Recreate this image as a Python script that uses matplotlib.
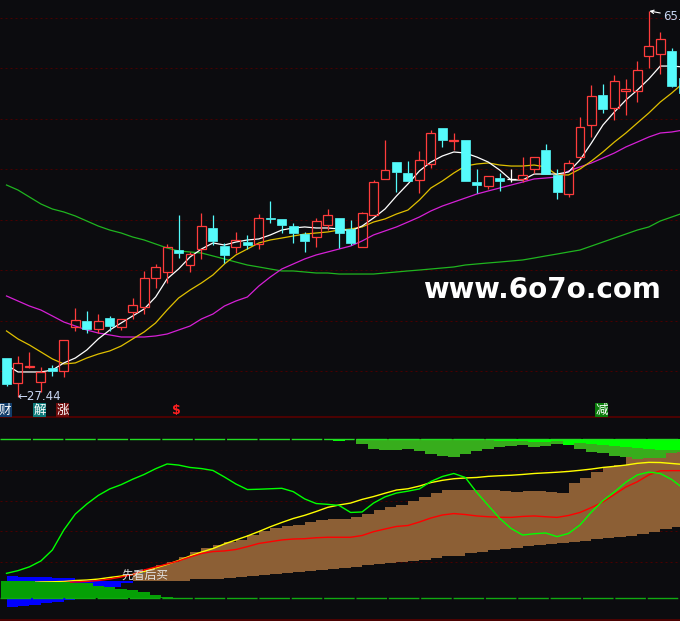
import numpy as np
import matplotlib.pyplot as plt

BG = "#0c0c0f"
RED = "#ff3c3c"
CYAN = "#55fbfb"
CJK = ["Noto Sans CJK SC", "DejaVu Sans"]

# ---- upper panel: daily candles ----
opens = [31.24, 28.81, 30.37, 28.90, 30.27, 29.98, 34.27, 34.85, 34.07, 35.14,
         34.27, 35.73, 36.22, 39.04, 39.63, 41.77, 40.31, 41.87, 43.92, 42.16,
         42.07, 42.55, 42.36, 44.89, 44.80, 44.11, 43.33, 43.04, 44.21, 44.89,
         43.82, 42.07, 45.19, 48.70, 50.35, 49.28, 48.60, 50.16, 53.67, 52.40,
         52.50, 48.40, 48.01, 48.79, 48.65, 48.70, 49.67, 51.52, 49.09, 47.23,
         50.84, 53.96, 56.89, 55.62, 57.28, 57.28, 60.69, 60.88, 61.18, 58.54]
highs = [31.24, 31.44, 31.83, 30.37, 30.56, 33.00, 36.12, 35.83, 35.53, 35.34,
         35.05, 37.09, 39.73, 40.41, 42.36, 45.19, 41.58, 45.38, 45.19, 42.46,
         43.53, 43.24, 45.28, 46.55, 44.80, 44.41, 43.53, 44.89, 45.77, 44.89,
         44.70, 45.48, 48.60, 52.50, 50.35, 50.45, 51.43, 53.47, 53.67, 53.18,
         52.50, 49.67, 48.99, 49.28, 49.67, 50.84, 50.84, 52.11, 49.67, 50.55,
         54.74, 57.86, 57.96, 58.84, 58.45, 60.20, 65.08, 63.03, 61.47, 58.54]
lows = [28.51, 27.44, 30.27, 27.93, 29.49, 29.39, 33.88, 33.68, 33.68, 33.88,
        33.97, 35.05, 35.53, 38.07, 38.56, 40.99, 39.63, 40.90, 42.26, 40.51,
        41.48, 41.87, 41.87, 44.41, 43.43, 42.46, 41.58, 42.07, 43.72, 41.97,
        42.26, 42.07, 45.19, 48.70, 47.43, 48.50, 47.33, 49.77, 51.82, 51.52,
        48.50, 47.33, 47.72, 47.53, 48.40, 48.40, 49.28, 49.18, 46.75, 46.94,
        50.84, 52.79, 55.13, 54.45, 54.94, 56.20, 59.52, 58.93, 57.67, 57.08]
closes = [28.71, 30.76, 30.46, 29.88, 29.98, 33.00, 34.95, 34.07, 34.85, 34.36,
          35.05, 36.41, 39.04, 40.12, 42.07, 41.48, 41.38, 44.11, 42.65, 41.29,
          42.75, 42.26, 44.89, 44.80, 44.21, 43.43, 42.65, 44.60, 45.19, 43.43,
          42.46, 45.38, 48.40, 49.57, 49.38, 48.50, 50.55, 53.18, 52.50, 52.50,
          48.50, 48.11, 48.99, 48.50, 48.65, 49.09, 50.84, 49.18, 47.43, 50.26,
          53.77, 56.79, 55.52, 58.25, 57.47, 59.32, 61.66, 62.35, 57.76, 57.08]

ma5 = [30.56, 29.88, 29.88, 29.88, 30.07, 30.76, 31.24, 32.02, 33.10, 33.97,
       34.66, 35.34, 36.02, 37.19, 38.95, 39.92, 41.09, 41.87, 42.46, 42.26,
       42.55, 42.75, 42.85, 43.24, 43.72, 43.92, 44.02, 43.92, 43.92, 43.82,
       43.63, 44.11, 44.89, 45.77, 47.04, 48.21, 49.48, 50.35, 50.94, 51.33,
       51.23, 50.84, 50.35, 49.57, 48.60, 48.60, 49.18, 49.18, 49.18, 49.38,
       50.55, 52.21, 53.96, 55.23, 56.40, 57.37, 58.45, 59.71, 59.71, 59.62]
ma10 = [33.88, 33.10, 32.51, 31.83, 31.15, 30.66, 30.76, 31.24, 31.63, 31.93,
        32.41, 33.10, 33.78, 34.66, 35.92, 37.09, 37.87, 38.56, 39.34, 40.41,
        41.29, 41.87, 42.46, 42.75, 42.94, 43.14, 43.33, 43.43, 43.53, 43.72,
        43.82, 44.02, 44.50, 44.80, 45.28, 45.67, 46.65, 47.82, 48.50, 49.28,
        49.96, 50.16, 50.26, 50.06, 49.96, 49.96, 50.06, 49.87, 49.09, 49.09,
        49.67, 50.45, 51.33, 52.30, 53.18, 54.16, 55.13, 56.20, 57.08, 58.06]
ma20 = [37.29, 36.80, 36.31, 35.92, 35.34, 34.75, 34.36, 33.97, 33.68, 33.49,
        33.29, 33.29, 33.29, 33.39, 33.58, 33.97, 34.36, 35.05, 35.53, 36.31,
        36.80, 37.19, 38.26, 39.14, 39.92, 40.41, 40.90, 41.29, 41.58, 41.87,
        42.16, 42.65, 43.24, 43.63, 44.02, 44.50, 44.99, 45.58, 46.06, 46.45,
        46.84, 47.23, 47.53, 47.82, 48.11, 48.40, 48.70, 48.79, 48.89, 49.48,
        49.87, 50.26, 50.74, 51.23, 51.82, 52.30, 52.79, 53.18, 53.28, 53.47]
ma60 = [48.11, 47.62, 46.94, 46.26, 45.77, 45.48, 45.09, 44.60, 44.11, 43.72,
        43.43, 43.04, 42.75, 42.36, 41.97, 41.68, 41.58, 41.48, 41.19, 40.90,
        40.60, 40.31, 40.12, 39.92, 39.73, 39.73, 39.63, 39.53, 39.53, 39.43,
        39.43, 39.43, 39.43, 39.53, 39.63, 39.73, 39.82, 39.92, 40.02, 40.12,
        40.31, 40.41, 40.51, 40.60, 40.70, 40.80, 40.99, 41.19, 41.38, 41.58,
        41.77, 42.16, 42.55, 42.94, 43.33, 43.72, 44.02, 44.60, 44.99, 45.38]

tag_text = ["财", "解", "涨", "减"]
tag_pos = [0, 3, 5, 52]
tag_bg = ["#123d6b", "#0e7a7a", "#6e0b0b", "#0a7d0a"]
dollar_pos = 15

# ---- lower panel: indicator ----
blue_top = [13.8, 13.5, 13.2, 13.0, 12.6, 12.3, 11.6, 11.3, 11.0, 10.9, 10.9, 10.9]
blue_bot = [-5.8, -5.0, -4.4, -3.3, -2.3, -1.3, 0.6, 2.5, 5.0, 6.9, 9.2, 9.2]

band_start = 11
band_low = [10.7, 10.9, 10.9, 10.9, 11.0, 11.8, 12.1, 12.1, 12.8, 13.4,
            14.0, 14.7, 15.4, 15.9, 16.5, 17.2, 17.6, 18.2, 19.1, 19.7,
            20.8, 21.4, 22.0, 22.6, 23.5, 24.1, 25.0, 26.4, 26.6, 28.1,
            28.7, 30.0, 30.6, 31.4, 32.7, 33.3, 34.0, 34.6, 35.2, 35.8,
            36.9, 37.7, 38.6, 39.2, 40.3, 41.3, 43.2, 44.5, 44.7]
band_high = [15.1, 18.1, 20.8, 22.8, 26.0, 28.9, 31.3, 33.3, 35.2, 36.5,
             39.6, 42.3, 44.0, 45.5, 45.9, 48.0, 49.1, 49.7, 49.7, 51.1,
             52.8, 55.3, 57.2, 58.5, 61.2, 63.5, 66.0, 67.9, 67.9, 67.9,
             67.9, 67.7, 67.6, 66.9, 67.5, 67.5, 66.9, 66.2, 72.1, 75.3,
             79.4, 82.6, 83.6, 88.9, 93.0, 94.0, 94.0, 94.0, 94.0]

yellow_line = [9.7, 9.7, 9.8, 10.1, 10.2, 10.4, 11.0, 11.3, 11.9, 12.9,
               13.8, 14.8, 16.7, 18.9, 21.1, 23.6, 26.4, 28.9, 31.1, 34.0,
               36.5, 39.0, 41.8, 44.8, 47.5, 50.0, 52.0, 54.4, 57.0, 58.5,
               59.7, 62.0, 63.8, 65.9, 67.9, 68.7, 70.4, 72.6, 74.0, 75.0,
               75.5, 75.8, 76.5, 76.9, 77.2, 77.7, 78.3, 78.7, 79.1, 79.6,
               80.3, 81.1, 82.1, 82.8, 83.6, 84.7, 85.3, 85.2, 84.6, 84.0]
red_line = [8.2, 8.5, 8.8, 9.1, 9.4, 9.7, 10.1, 10.4, 11.0, 11.9,
            13.2, 14.8, 17.6, 19.5, 21.4, 23.3, 25.8, 28.0, 29.2, 29.6,
            30.5, 32.3, 34.3, 35.4, 36.5, 37.1, 37.3, 37.9, 38.2, 38.2,
            38.2, 39.3, 41.7, 43.4, 45.0, 45.6, 47.8, 50.3, 52.2, 53.1,
            52.5, 51.6, 51.1, 50.8, 50.7, 51.3, 51.6, 51.1, 50.7, 51.9,
            53.8, 56.9, 60.4, 65.1, 69.8, 73.1, 77.4, 80.0, 80.1, 80.1]
green_line = [15.5, 17.2, 19.6, 23.3, 30.2, 42.8, 52.8, 59.1, 64.5, 68.6,
              71.3, 74.7, 77.7, 81.3, 84.3, 83.6, 82.1, 81.4, 80.2, 76.1,
              71.7, 68.2, 68.4, 68.7, 69.0, 66.9, 62.3, 59.4, 58.9, 58.2,
              53.8, 54.1, 59.7, 63.6, 66.0, 67.2, 68.6, 73.3, 76.4, 78.3,
              75.8, 66.4, 58.2, 50.1, 43.7, 39.6, 40.4, 40.9, 38.6, 40.6,
              45.9, 54.1, 61.2, 66.7, 72.8, 77.4, 79.2, 78.3, 74.5, 69.0]

base_bars = [10.7, 10.7, 10.7, 10.1, 10.1, 10.1, 9.2, 9.2, 7.7, 7.1, 5.7, 5.0, 3.8, 2.1, 0.4]

top_start = 29
top_dark = [98.7, 99.7, 96.9, 93.7, 93.1, 93.1, 93.7, 92.6, 90.6, 89.5,
            88.9, 90.6, 92.6, 93.7, 95.2, 95.8, 96.4, 95.2, 95.8, 96.9,
            96.4, 93.7, 92.0, 91.2, 89.5, 88.9, 87.4, 88.1, 88.1, 91.2, 91.8]
top_bright = [98.9, 100, 100, 100, 100, 100, 100, 100, 100, 100,
              100, 100, 100, 100, 98.6, 98.7, 98.6, 97.9, 97.9, 98.6,
              96.4, 97.3, 96.9, 96.2, 95.4, 95.2, 94.3, 93.7, 93.3, 93.3, 93.1]


def main():
    W, H = 680, 621
    fig = plt.figure(figsize=(W / 100, H / 100), dpi=100, facecolor=BG)
    ax = fig.add_axes([0, 1 - 417.5 / H, 1, 417.5 / H], facecolor=BG)
    ax2 = fig.add_axes([0, 0, 1, 203.5 / H], facecolor=BG)

    xlim = (-0.567, 58.72)
    for a in (ax, ax2):
        a.set_xlim(*xlim)
        a.set_xticks([])
        a.set_yticks([])
        for s in a.spines.values():
            s.set_visible(False)
    ax.set_ylim(25.44, 66.15)
    ax2.set_ylim(-14.47, 113.52)

    # grid
    for g in np.linspace(29.98, 64.39, 8):
        ax.axhline(g, color="#4a0000", lw=0.72, ls=(0, (2, 3)), zorder=0)
    for g in np.linspace(22.6, 80.5, 4):
        ax2.axhline(g, color="#4a0000", lw=0.72, ls=(0, (2, 3)), zorder=0)
    ax.axhline(25.5, color="#5a0000", lw=1.2)
    ax2.axhline(-13.84, color="#5a0000", lw=1.2)

    # moving averages
    idx = np.arange(len(opens))
    ax.plot(idx, ma60, color="#1fb51f", lw=0.9, zorder=2)
    ax.plot(idx, ma20, color="#d620d6", lw=0.9, zorder=2)
    ax.plot(idx, ma10, color="#e0c000", lw=0.9, zorder=2)
    ax.plot(idx, ma5, color="#ffffff", lw=0.9, zorder=2)

    # candles
    o, h, l, c = (np.array(v) for v in (opens, highs, lows, closes))
    up, dn, flat = c > o, c < o, c == o
    bw = 0.78
    for i in idx:
        col = RED if up[i] else (CYAN if dn[i] else "white")
        top, bot = max(o[i], c[i]), min(o[i], c[i])
        ax.vlines(i, top, h[i], color=col, lw=0.9, zorder=3)
        ax.vlines(i, l[i], bot, color=col, lw=0.9, zorder=3)
    ax.bar(idx[up], (c - o)[up], bottom=o[up], width=bw, facecolor="none",
           edgecolor=RED, linewidth=0.9, zorder=4)
    ax.bar(idx[dn], (o - c)[dn], bottom=c[dn], width=bw, facecolor=CYAN,
           edgecolor=CYAN, linewidth=0.5, zorder=4)
    ax.hlines(c[flat], idx[flat] - bw / 2, idx[flat] + bw / 2, color="white", lw=0.9, zorder=4)

    # low / high labels
    lo_i = int(np.argmin(l))
    ax.text(lo_i - 0.08, l[lo_i], "←" + f"{l[lo_i]:.2f}", color="#c8d6f2", fontsize=8.5,
            ha="left", va="center", zorder=5)
    hi_i = int(np.argmax(h))
    ax.annotate(f"{h[hi_i]:.2f}", xy=(hi_i + 0.05, h[hi_i]), xytext=(hi_i + 1.24, h[hi_i] - 0.55),
                color="#c8d6f2", fontsize=8.5, ha="left", va="center", zorder=5,
                arrowprops=dict(arrowstyle="->", color="white", lw=0.8,
                                shrinkA=0, shrinkB=0, mutation_scale=6))

    # signal tags
    for t, p, bg in zip(tag_text, tag_pos, tag_bg):
        ax.text(p - 0.12, 26.17, t, family=CJK, fontsize=9, color="white",
                ha="center", va="center", zorder=5,
                bbox=dict(boxstyle="square,pad=0.05", facecolor=bg, edgecolor="none"))
    ax.text(dollar_pos - 0.18, 26.17, "$", parse_math=False, fontsize=9, color="#ff2020",
            ha="center", va="center", fontweight="bold", zorder=5)

    fig.text(542 / W, 1 - 290 / H, "www.6o7o.com", color="white", fontsize=20,
             fontweight="bold", ha="center", va="center")

    # ---- lower panel ----
    bi = np.arange(len(blue_top))
    ax2.fill_between(bi, blue_bot, blue_top, step="post", color="#0000ff", lw=0, zorder=1)
    ki = np.arange(band_start, band_start + len(band_low))
    ax2.fill_between(ki, band_low, band_high, step="post", color="#8c5f35", lw=0, zorder=2)

    ax2.plot(idx, yellow_line, color="#ffff00", lw=1.0, zorder=3)
    ax2.plot(idx, red_line, color="#ff0000", lw=1.0, zorder=3)
    ax2.plot(idx, green_line, color="#00ff00", lw=1.0, zorder=3)

    gi = np.arange(len(base_bars))
    ax2.bar(gi, base_bars, width=1.0, color="#05a005", lw=0, zorder=4)

    ti = np.arange(top_start, top_start + len(top_dark))
    td, tb = np.array(top_dark), np.array(top_bright)
    ax2.bar(ti, 100 - td, bottom=td, width=1.0, color="#37ad1c", lw=0, zorder=4)
    ax2.bar(ti, 100 - tb, bottom=tb, width=1.0, color="#00ff00", lw=0, zorder=5)

    ax2.axhline(100, color="#22dd22", lw=1.0, ls=(0, (22, 1.3)), zorder=6)
    ax2.axhline(0, color="#11aa11", lw=1.0, ls=(0, (22, 1.3)), zorder=6)

    ax2.text(12.07, 14.5, "先看后买", family=CJK, fontsize=8.5, color="#e4e4e4",
             ha="center", va="center", zorder=7)

    fig.savefig("out.png", dpi=100, facecolor=BG)
    plt.close(fig)


if __name__ == "__main__":
    main()
